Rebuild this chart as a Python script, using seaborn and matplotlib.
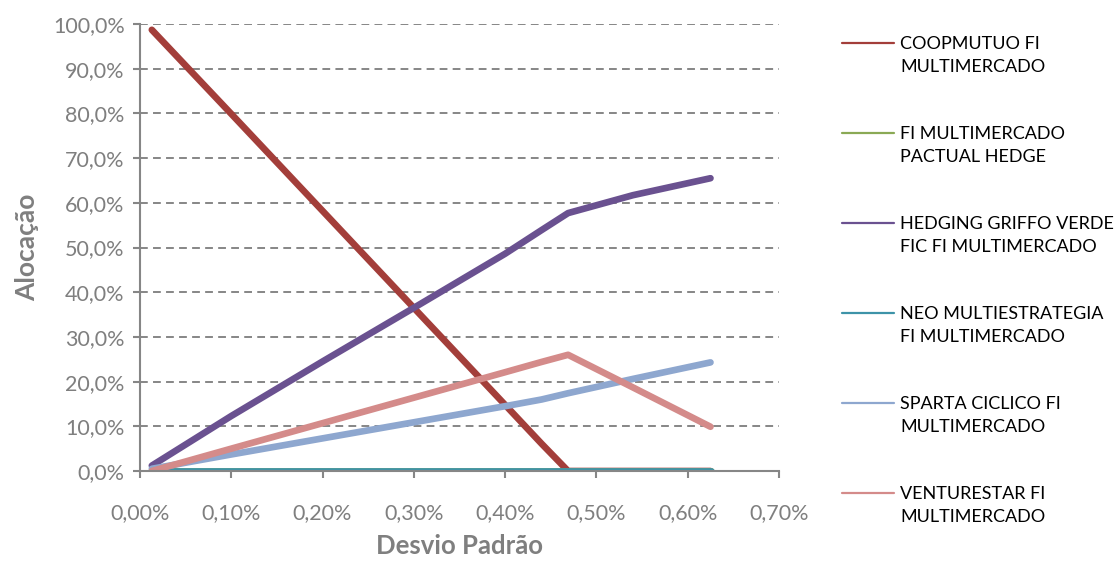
import matplotlib
matplotlib.use("Agg")
import matplotlib.pyplot as plt
from matplotlib.lines import Line2D
from matplotlib.ticker import FuncFormatter, MultipleLocator
import seaborn as sns
import pandas as pd

# desvio padrao (%) at the read-off points
desvio = [0.013, 0.10, 0.20, 0.30, 0.40, 0.44, 0.469, 0.54, 0.625]

fundos = [
    "COOPMUTUO FI\nMULTIMERCADO",
    "FI MULTIMERCADO\nPACTUAL HEDGE",
    "HEDGING GRIFFO VERDE\nFIC FI MULTIMERCADO",
    "NEO MULTIESTRATEGIA\nFI MULTIMERCADO",
    "SPARTA CICLICO FI\nMULTIMERCADO",
    "VENTURESTAR FI\nMULTIMERCADO",
]

coopmutuo = [98.7, 79.9, 58.2, 36.5, 14.8, 6.1, 0.0, 0.0, 0.0]
pactual = [0.0, 0.0, 0.0, 0.0, 0.0, 0.0, 0.0, 0.0, 0.0]
griffo = [1.2, 12.3, 24.5, 36.5, 48.6, 53.9, 57.7, 61.7, 65.5]
neo = [0.0, 0.0, 0.0, 0.0, 0.0, 0.0, 0.0, 0.0, 0.0]
sparta = [0.5, 3.7, 7.3, 10.9, 14.5, 16.0, 17.4, 20.6, 24.3]
venturestar = [0.0, 5.0, 10.7, 16.4, 22.1, 24.4, 26.0, 18.7, 9.9]

cores = ["#A33E3A", "#8AA955", "#6A5190", "#3D93A8", "#8EA7CF", "#D48B8A"]

df = pd.DataFrame({
    "desvio": desvio * 6,
    "alocacao": coopmutuo + pactual + griffo + neo + sparta + venturestar,
    "fundo": [f for f in fundos for _ in desvio],
})

sns.set_style("white")
plt.rcParams["font.family"] = ["Lato", "DejaVu Sans"]

cinza = "#868686"
fig = plt.figure(figsize=(11.16, 5.62), dpi=100)
ax = fig.add_axes([0.1254, 0.1619, 0.5726, 0.7954])

sns.lineplot(data=df, x="desvio", y="alocacao", hue="fundo", hue_order=fundos,
             palette=cores, linewidth=4.8, legend=False, ax=ax,
             solid_capstyle="round", solid_joinstyle="round")

ax.set_xlim(0, 0.70)
ax.set_ylim(0, 100)
ax.xaxis.set_major_locator(MultipleLocator(0.10))
ax.yaxis.set_major_locator(MultipleLocator(10))
ax.xaxis.set_major_formatter(FuncFormatter(lambda v, p: f"{v:.2f}%".replace(".", ",")))
ax.yaxis.set_major_formatter(FuncFormatter(lambda v, p: f"{v:.1f}%".replace(".", ",")))

ax.yaxis.grid(True, color=cinza, linestyle=(0, (4, 2.7)), linewidth=1.4)
ax.set_axisbelow(True)
for s in ["top", "right"]:
    ax.spines[s].set_visible(False)
for s in ["left", "bottom"]:
    ax.spines[s].set_color(cinza)
    ax.spines[s].set_linewidth(1.5)
ax.tick_params(axis="both", colors=cinza, labelcolor="#7F7F7F", labelsize=15.5,
               direction="out", length=5, width=1.5, left=True, bottom=True)
ax.tick_params(axis="x", pad=18)
ax.tick_params(axis="y", pad=6)

ax.set_xlabel("Desvio Padrão", fontsize=18.5, fontweight="bold", color="#7F7F7F", labelpad=8)
ax.set_ylabel("Alocação", fontsize=19, fontweight="bold", color="#7F7F7F", labelpad=10)

# legend drawn by hand so the line sits beside the first text line
for i, (nome, cor) in enumerate(zip(fundos, cores)):
    y = 1 - (43 + 90 * i) / 562
    fig.add_artist(Line2D([842 / 1116, 894 / 1116], [y, y], color=cor, linewidth=1.6))
    fig.text(900 / 1116, y + 7 / 562, nome, fontsize=13, color="black",
             va="top", ha="left", linespacing=1.55)

fig.savefig("out.png", dpi=100)
